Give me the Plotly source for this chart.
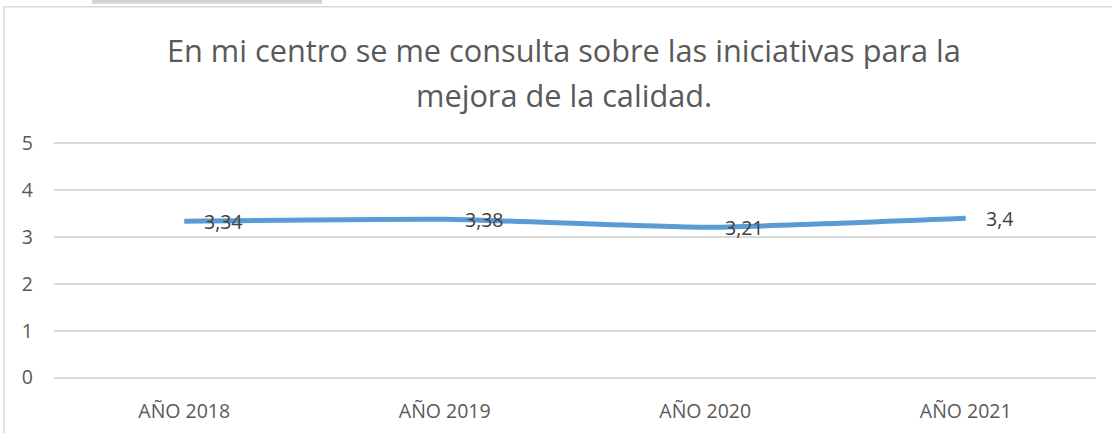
import plotly.graph_objects as go

categories = ["AÑO 2018", "AÑO 2019", "AÑO 2020", "AÑO 2021"]
values = [3.34, 3.38, 3.21, 3.4]
labels = ["3,34", "3,38", "3,21", "3,4"]
y_ticks = [0, 1, 2, 3, 4, 5]
title_lines = ["En mi centro se me consulta sobre las iniciativas para la", "mejora de la calidad."]

FONT = "Open Sans"
W, H = 1112, 433
Y0_PX, Y5_PX = 378, 143
unit = (Y0_PX - Y5_PX) / 5
pad = 0.05
L, R = 54, 16
T = Y5_PX - pad * unit
B = H - (Y0_PX + pad * unit)
pw, ph = W - L - R, H - T - B
def px(x): return (x - L) / pw
def py(y): return (H - B - y) / ph

fig = go.Figure()
fig.add_trace(go.Scatter(
    x=categories, y=values, mode="lines",
    line=dict(color="#5B9BD5", width=5, shape="spline", smoothing=0.5),
    hoverinfo="skip", showlegend=False,
))
for c, v, t in zip(categories, values, labels):
    fig.add_annotation(x=c, y=v, text=t, showarrow=False, xanchor="left", yanchor="middle",
                       xshift=18, font=dict(family=FONT, size=19.5, color="#404040"))

for line, yc in zip(title_lines, [49, 95]):
    fig.add_annotation(xref="paper", yref="paper", x=px(564), y=py(yc), text=line,
                       showarrow=False, xanchor="center", yanchor="middle",
                       font=dict(family=FONT, size=30.7, color="#595959"))

fig.add_shape(type="rect", xref="paper", yref="paper",
              x0=px(4), x1=px(1130), y0=py(460), y1=py(6),
              line=dict(color="#D9D9D9", width=1.5), fillcolor="rgba(0,0,0,0)", layer="below")
fig.add_shape(type="rect", xref="paper", yref="paper",
              x0=px(92), x1=px(322), y0=py(3), y1=py(-2),
              line=dict(width=0), fillcolor="#D4D4D4", layer="below")

fig.update_layout(
    width=W, height=H,
    margin=dict(l=L, r=R, t=T, b=B, autoexpand=False),
    paper_bgcolor="white", plot_bgcolor="white",
    xaxis=dict(type="category", range=[-0.5, 3.5], showgrid=False, zeroline=False,
               showline=False, ticks="", ticklabelstandoff=17, automargin=False,
               tickfont=dict(family=FONT, size=19.5, color="#595959")),
    yaxis=dict(range=[-pad, 5 + pad], tickvals=y_ticks, showgrid=True, gridcolor="#D9D9D9", gridwidth=1.5,
               zeroline=False, showline=False, ticks="", ticklabelstandoff=20, automargin=False,
               tickfont=dict(family=FONT, size=19.5, color="#595959")),
)
fig.write_html("out.html", config={"displayModeBar": False},
               post_script="document.body.style.margin='0';")
